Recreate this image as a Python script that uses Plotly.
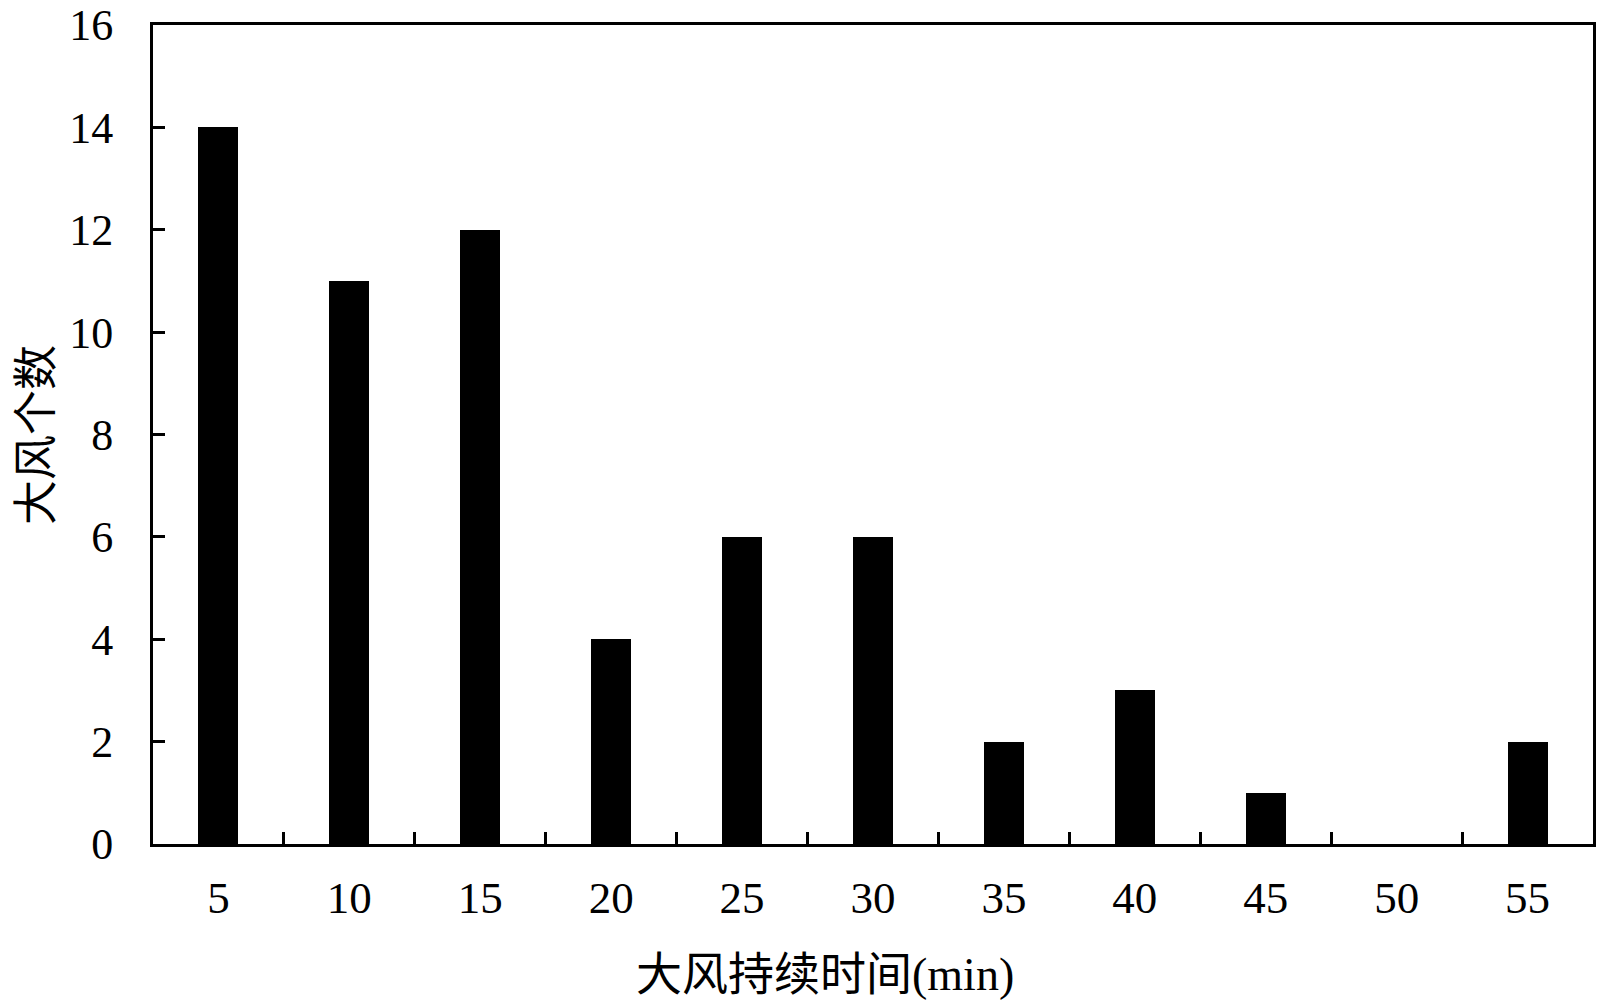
import plotly.graph_objects as go

categories = ["5", "10", "15", "20", "25", "30", "35", "40", "45", "50", "55"]
counts = [14, 11, 12, 4, 6, 6, 2, 3, 1, 0, 2]
y_ticks = [0, 2, 4, 6, 8, 10, 12, 14, 16]

x_title = "大风持续时间(min)"
y_title = "大风个数"

FONT = "Liberation Serif, Times New Roman, Noto Sans CJK SC, serif"

fig = go.Figure()
fig.add_trace(go.Bar(
    x=categories, y=counts,
    marker=dict(color="black", line=dict(width=0)),
    width=0.305,
))

fig.update_layout(
    width=1600, height=1007,
    margin=dict(l=153, r=7, t=25, b=163, autoexpand=False),
    paper_bgcolor="white", plot_bgcolor="white",
    showlegend=False,
    font=dict(family=FONT, size=45, color="black"),
    bargap=0,
)
fig.update_xaxes(
    type="category",
    range=[-0.5, 10.5],
    automargin=False,
    showline=True, linecolor="black", linewidth=3, mirror=True,
    ticks="inside", tickson="boundaries", ticklen=12, tickwidth=3, tickcolor="black",
    showgrid=False, zeroline=False,
    tickfont=dict(family=FONT, size=45),
    ticklabelstandoff=12,
    ticklabeloverflow="allow",
)
fig.update_yaxes(
    range=[0, 16],
    tickvals=y_ticks,
    automargin=False,
    showline=True, linecolor="black", linewidth=3, mirror=True,
    ticks="inside", ticklen=12, tickwidth=3, tickcolor="black",
    showgrid=False, zeroline=False,
    tickfont=dict(family=FONT, size=44),
    ticklabelstandoff=28,
    ticklabeloverflow="allow",
)

fig.add_annotation(
    text=x_title, xref="paper", yref="paper",
    x=(825 - 153) / 1440, y=-(975 - 844) / 819,
    xanchor="center", yanchor="middle", showarrow=False,
    font=dict(family=FONT, size=46, color="black"),
)
fig.add_annotation(
    text=y_title, xref="paper", yref="paper",
    x=-(153 - 37) / 1440, y=(844 - 435) / 819,
    xanchor="center", yanchor="middle", showarrow=False, textangle=-90,
    font=dict(family=FONT, size=45, color="black"),
)

# remove the page's default body margin so the figure sits at the window's origin
fig.write_html(
    "out.html",
    config={"displayModeBar": False},
    post_script="document.body.style.margin='0';document.body.style.overflow='hidden';",
)
